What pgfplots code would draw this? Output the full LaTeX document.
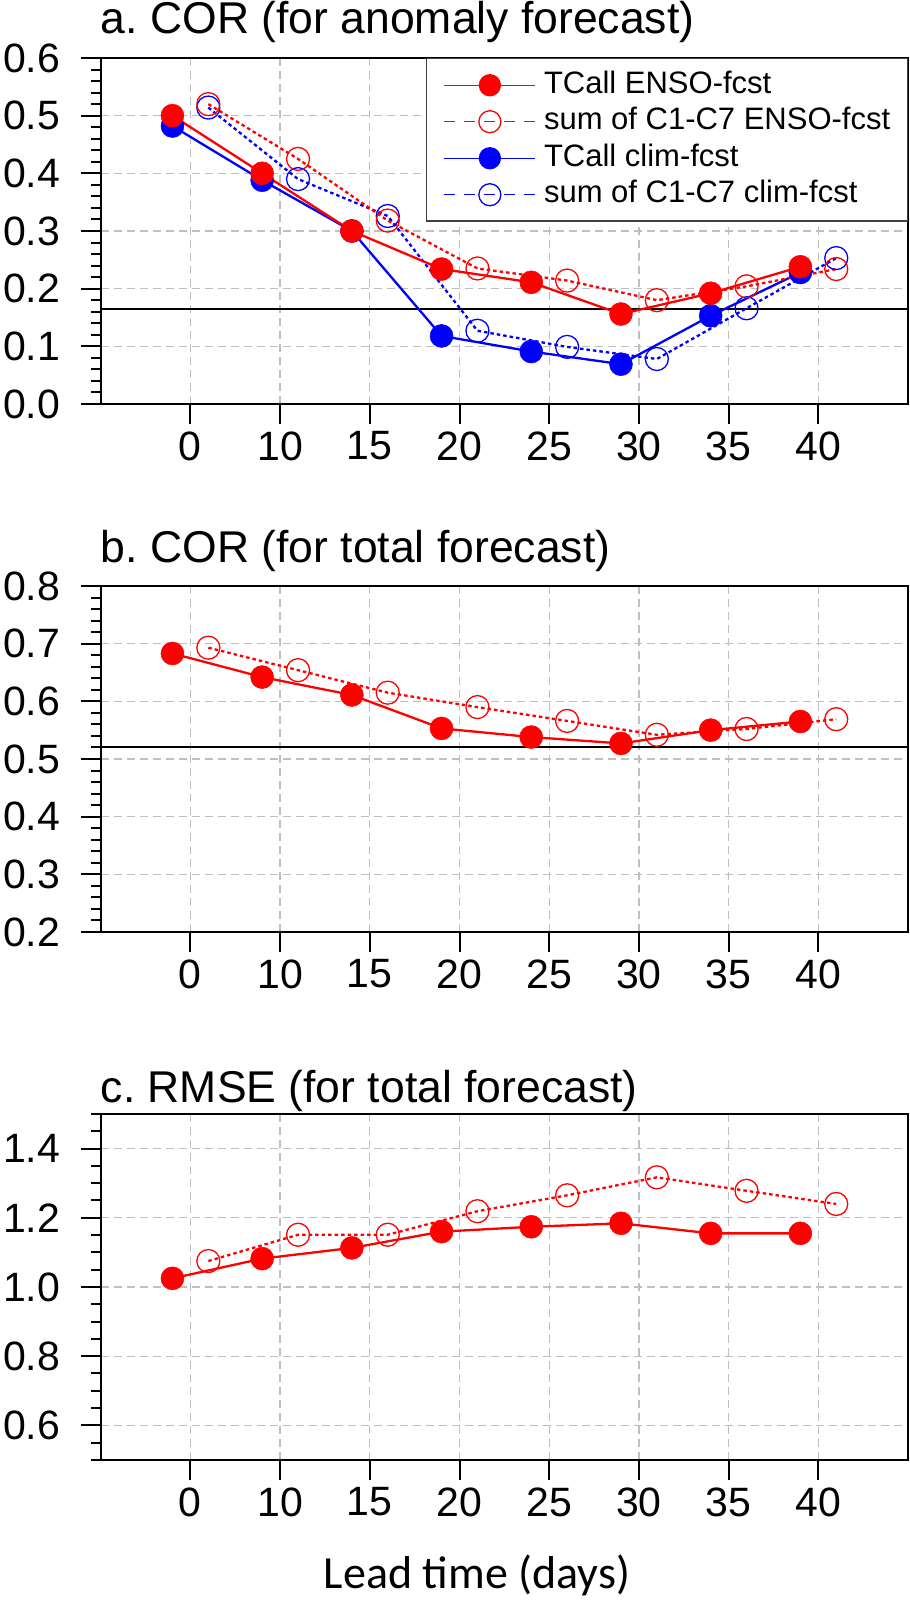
\documentclass[border=0pt]{standalone}
\usepackage{fontspec}
\setmainfont{Liberation Sans}
\newfontfamily\calfont{Carlito}
\usepackage{pgfplots}
\pgfplotsset{compat=1.18}
\usepackage{pgfplotstable}
\frenchspacing

% panel a: anomaly COR
\pgfplotstableread{
x re ro be bo
0 0.500 0.520 0.482 0.514
1 0.400 0.425 0.388 0.390
2 0.300 0.318 0.300 0.326
3 0.234 0.235 0.118 0.127
4 0.211 0.214 0.091 0.099
5 0.156 0.180 0.069 0.078
6 0.192 0.204 0.153 0.166
7 0.238 0.234 0.228 0.253
}\cora

% panel b: total COR
\pgfplotstableread{
x re ro
0 0.683 0.693
1 0.642 0.654
2 0.611 0.615
3 0.553 0.590
4 0.538 0.566
5 0.527 0.542
6 0.550 0.552
7 0.565 0.569
}\corb

% panel c: RMSE
\pgfplotstableread{
x re ro
0 1.025 1.075
1 1.082 1.151
2 1.113 1.151
3 1.160 1.219
4 1.174 1.265
5 1.184 1.317
6 1.155 1.278
7 1.155 1.240
}\rmse

\pgfplotsset{
  ncl/.style={
    scale only axis, width=807.3bp, height=346bp,
    anchor=south west,
    xmin=-1, xmax=8,
    xtick={0,...,7},
    xticklabels={0,10,15,20,25,30,35,40},
    tick align=outside,
    xtick pos=bottom, ytick pos=left,
    major tick length=20bp, minor tick length=10bp,
    every tick/.style={line width=2bp, black},
    axis line style={line width=2bp},
    grid=major,
    major grid style={dash pattern=on 8bp off 5bp, line width=1.3bp, black!25},
    ticklabel style={font=\fontsize{41bp}{49bp}\selectfont},
    xticklabel style={yshift=-4bp},
    /pgf/number format/assume math mode=true,
    yticklabel style={xshift=-17bp, /pgf/number format/.cd, fixed, fixed zerofill, precision=1},
  },
  fillser/.style={color=#1, line width=2.3bp, mark=*, mark size=11.5bp,
    mark options={solid, line width=0.5bp}},
  openser/.style={color=#1, line width=2.3bp, dash pattern=on 3.5bp off 3bp,
    mark=o, mark size=11.5bp, mark options={solid, line width=1.3bp}},
  legfill/.style={color=#1, line width=1.3bp, mark=*, mark size=10.5bp},
  legopen/.style={color=#1, line width=1.3bp, dash pattern=on 11bp off 9bp,
    mark=o, mark size=11bp, mark options={solid}},
}

\begin{document}
\begin{tikzpicture}
\path[use as bounding box] (0,0) rectangle (910bp,1608bp);

% ---- a ----
\begin{axis}[ncl, at={(100.7bp,1204bp)},
  ymin=0, ymax=0.6, ytick={0,0.1,...,0.6}, minor y tick num=4,
  legend image code/.code={\draw[mark repeat=2, mark phase=2, #1]
    plot coordinates {(0bp,0bp) (45.5bp,0bp) (91bp,0bp)};},
  legend cell align=left,
  legend style={at={(1,1)}, anchor=north east, draw=black!75, line width=1.5bp,
    fill=white, font=\fontsize{31bp}{37bp}\selectfont,
    inner xsep=17bp, inner ysep=12.5bp, row sep=8.5bp, column sep=8bp,
    nodes={inner sep=0pt, text height=22bp, text depth=6bp}},
]
\addplot[black, line width=2bp, forget plot] coordinates {(-1,0.165) (8,0.165)};
\addplot[openser=blue, forget plot] table[x expr=\thisrow{x}+0.2, y=bo] {\cora};
\addplot[fillser=blue, forget plot] table[x expr=\thisrow{x}-0.2, y=be] {\cora};
\addplot[openser=red, forget plot] table[x expr=\thisrow{x}+0.2, y=ro] {\cora};
\addplot[fillser=red, forget plot] table[x expr=\thisrow{x}-0.2, y=re] {\cora};
\addlegendimage{legfill=red}
\addlegendentry{TCall ENSO-fcst}
\addlegendimage{legopen=red}
\addlegendentry{sum of C1-C7 ENSO-fcst}
\addlegendimage{legfill=blue}
\addlegendentry{TCall clim-fcst}
\addlegendimage{legopen=blue}
\addlegendentry{sum of C1-C7 clim-fcst}
\end{axis}

% ---- b ----
\begin{axis}[ncl, at={(100.7bp,676bp)},
  ymin=0.2, ymax=0.8, ytick={0.2,0.3,...,0.8}, minor y tick num=4]
\addplot[black, line width=2bp] coordinates {(-1,0.52) (8,0.52)};
\addplot[openser=red] table[x expr=\thisrow{x}+0.2, y=ro] {\corb};
\addplot[fillser=red] table[x expr=\thisrow{x}-0.2, y=re] {\corb};
\end{axis}

% ---- c ----
\begin{axis}[ncl, at={(100.7bp,148bp)},
  ymin=0.5, ymax=1.5, ytick={0.6,0.8,1.0,1.2,1.4},
  minor ytick={0.5,0.55,0.65,0.7,0.75,0.85,0.9,0.95,1.05,1.1,1.15,1.25,1.3,1.35,1.45,1.5}]
\addplot[openser=red] table[x expr=\thisrow{x}+0.2, y=ro] {\rmse};
\addplot[fillser=red] table[x expr=\thisrow{x}-0.2, y=re] {\rmse};
\end{axis}

\begin{scope}[every node/.style={anchor=base west, inner sep=0pt,
    font=\fontsize{44.5bp}{53bp}\selectfont}]
\node at (100.7bp,1574bp) {a. COR (for anomaly forecast)};
\node at (100.7bp,1045bp) {b. COR (for total forecast)};
\node at (100.7bp,505bp) {c. RMSE (for total forecast)};
\end{scope}
\node[anchor=base, inner sep=0pt, font=\calfont\fontsize{46bp}{55bp}\selectfont]
  at (477bp,20bp) {Lead time (days)};
\end{tikzpicture}
\end{document}
